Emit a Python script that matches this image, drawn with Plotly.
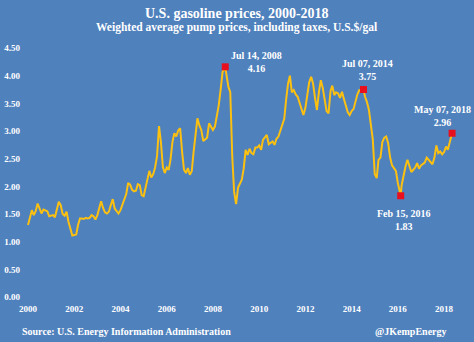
import pandas as pd
import plotly.graph_objects as go

# Monthly average U.S. pump prices (all grades, incl. taxes), $/gal, first of each month
months = pd.date_range("2000-01-01", "2018-04-01", freq="MS")
prices = [
    # 2000
    1.30, 1.42, 1.57, 1.48, 1.55, 1.69, 1.58, 1.51, 1.58, 1.56, 1.55, 1.46,
    # 2001
    1.47, 1.48, 1.44, 1.60, 1.72, 1.66, 1.50, 1.47, 1.54, 1.36, 1.22, 1.11,
    # 2002
    1.12, 1.13, 1.30, 1.42, 1.42, 1.41, 1.43, 1.42, 1.43, 1.48, 1.46, 1.40,
    # 2003
    1.48, 1.64, 1.73, 1.61, 1.53, 1.51, 1.54, 1.66, 1.77, 1.60, 1.55, 1.51,
    # 2004
    1.57, 1.68, 1.77, 1.86, 2.06, 2.03, 1.94, 1.91, 1.92, 2.04, 2.02, 1.84,
    # 2005
    1.82, 1.96, 2.12, 2.28, 2.16, 2.22, 2.34, 2.55, 3.09, 2.80, 2.35, 2.24,
    # 2006
    2.34, 2.30, 2.48, 2.80, 2.96, 2.90, 3.01, 3.05, 2.62, 2.30, 2.24, 2.33,
    # 2007
    2.21, 2.28, 2.62, 2.92, 3.23, 3.10, 3.02, 2.82, 2.86, 2.88, 3.14, 3.08,
    # 2008
    3.02, 3.08, 3.26, 3.46, 3.74, 4.07, 4.12, 4.02, 3.80, 3.70, 2.55, 1.90,
    # 2009
    1.68, 1.98, 2.04, 2.12, 2.32, 2.66, 2.57, 2.68, 2.60, 2.58, 2.70, 2.70,
    # 2010
    2.74, 2.66, 2.84, 2.88, 2.93, 2.76, 2.78, 2.81, 2.75, 2.86, 2.90, 3.00,
    # 2011
    3.10, 3.22, 3.55, 3.85, 4.00, 3.70, 3.74, 3.66, 3.62, 3.50, 3.40, 3.29,
    # 2012
    3.42, 3.62, 3.88, 3.98, 3.86, 3.60, 3.38, 3.70, 3.92, 3.78, 3.56, 3.36,
    # 2013
    3.32, 3.72, 3.82, 3.65, 3.70, 3.68, 3.60, 3.71, 3.58, 3.45, 3.34, 3.29,
    # 2014
    3.36, 3.40, 3.55, 3.66, 3.74, 3.72, 3.72, 3.62, 3.52, 3.38, 3.15, 2.85,
    # 2015
    2.22, 2.15, 2.48, 2.52, 2.80, 2.88, 2.90, 2.78, 2.52, 2.38, 2.33, 2.28,
    # 2016
    2.06, 1.93, 2.02, 2.20, 2.36, 2.48, 2.38, 2.26, 2.30, 2.34, 2.42, 2.32,
    # 2017
    2.38, 2.40, 2.43, 2.52, 2.48, 2.45, 2.40, 2.52, 2.74, 2.60, 2.63, 2.58,
    # 2018
    2.62, 2.72, 2.66, 2.80,
]

# Highlighted weekly readings
hi_dates = ["2008-07-14", "2014-07-07", "2016-02-15", "2018-05-07"]
hi_labels = ["Jul 14, 2008", "Jul 07, 2014", "Feb 15, 2016", "May 07, 2018"]
hi_values = [4.16, 3.75, 1.83, 2.96]
# label offsets (px) relative to each highlighted point
hi_xshift = [31, 4, 3, -10]
hi_yshift = [5, 20, -24, 17]

tick_years = [2000, 2002, 2004, 2006, 2008, 2010, 2012, 2014, 2016, 2018]
y_ticks = [0, 0.5, 1.0, 1.5, 2.0, 2.5, 3.0, 3.5, 4.0, 4.5]

BG = "#4f81bd"
LINE = "#fcc010"
MARK = "#e8101e"
TXT = "#ffffff"
FONT = "Liberation Serif"

series = pd.concat([
    pd.Series(prices, index=months),
    pd.Series(hi_values, index=pd.to_datetime(hi_dates)),
]).sort_index()

fig = go.Figure()
fig.add_trace(go.Scatter(
    x=series.index, y=series.values, mode="lines",
    line=dict(color=LINE, width=2), hoverinfo="skip",
))
fig.add_trace(go.Scatter(
    x=pd.to_datetime(hi_dates), y=hi_values, mode="markers",
    marker=dict(symbol="square", size=7, color=MARK), hoverinfo="skip",
))

for d, lab, v, dx, dy in zip(hi_dates, hi_labels, hi_values, hi_xshift, hi_yshift):
    fig.add_annotation(
        x=d, y=v, xref="x", yref="y", showarrow=False,
        text=f"<b>{lab}</b><br><b>{v:.2f}</b>", align="center",
        xshift=dx, yshift=dy,
        font=dict(family=FONT, size=10, color=TXT),
    )

fig.add_annotation(
    x=0.485, y=1.103, xref="paper", yref="paper", showarrow=False,
    text="<b>U.S. gasoline prices, 2000-2018</b>", yanchor="middle",
    font=dict(family=FONT, size=14, color=TXT),
)
fig.add_annotation(
    x=0.485, y=1.046, xref="paper", yref="paper", showarrow=False,
    text="<b>Weighted average pump prices, including taxes, U.S.$/gal</b>",
    yanchor="middle", font=dict(family=FONT, size=11.5, color=TXT),
)
fig.add_annotation(
    x=-0.002, y=-0.114, xref="paper", yref="paper", showarrow=False,
    text="<b>Source: U.S. Energy Information Administration</b>",
    xanchor="left", yanchor="middle",
    font=dict(family=FONT, size=10, color=TXT),
)
fig.add_annotation(
    x=0.962, y=-0.114, xref="paper", yref="paper", showarrow=False,
    text="<b>@JKempEnergy</b>", xanchor="right", yanchor="middle",
    font=dict(family=FONT, size=10, color=TXT),
)

fig.update_layout(
    width=474, height=342,
    margin=dict(l=21, r=8, t=40, b=40),
    paper_bgcolor=BG, plot_bgcolor=BG,
    showlegend=False,
    font=dict(family=FONT, color=TXT),
    xaxis=dict(
        type="date", automargin=False,
        range=["1999-09-12", "2018-12-13"],
        tickvals=[f"{y}-01-01" for y in tick_years],
        ticktext=[f"<b>{y}</b>" for y in tick_years],
        showgrid=False, zeroline=False, showline=False, ticks="",
        tickfont=dict(family=FONT, size=9, color=TXT),
    ),
    yaxis=dict(
        automargin=False,
        range=[-0.09, 4.645],
        tickvals=y_ticks,
        ticktext=[f"<b>{t:.2f}</b>" for t in y_ticks],
        showgrid=False, zeroline=False, showline=False, ticks="",
        tickfont=dict(family=FONT, size=9, color=TXT),
    ),
)

fig.write_html("out.html")
